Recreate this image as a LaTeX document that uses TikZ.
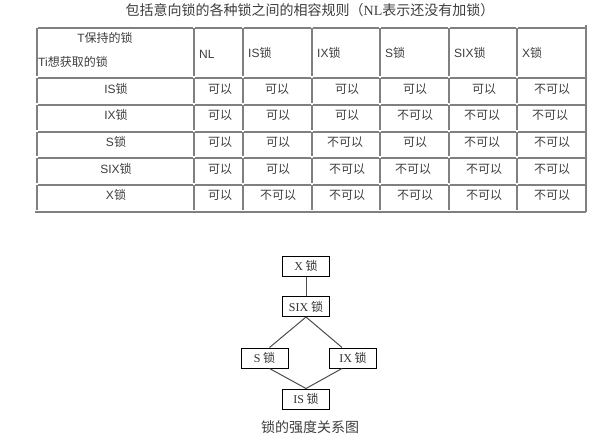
\documentclass[tikz,border=0pt]{standalone}
\usepackage{fontspec}
\setmainfont{Noto Sans CJK SC}
\newfontfamily\serifLatin{Liberation Serif}
\newfontfamily\sansLatin{Liberation Sans}
\usepackage{tikz}
\definecolor{gridColor}{RGB}{128,128,128}
\definecolor{textColor}{RGB}{62,62,62}
\tikzstyle{sheet} = [x = 1pt, y = -1pt]
\tikzstyle{gridLine} = [color=gridColor, line width=1.2pt]
\tikzstyle{cellText} = [font=\fontsize{12}{12}\selectfont, text=textColor, inner sep=0pt]
\tikzstyle{headText} = [cellText, anchor=west]
\tikzstyle{titleText} = [font=\fontsize{14}{14}\selectfont, text=textColor, inner sep=0pt]
\tikzstyle{lockBox} = [draw=black, line width=1pt, minimum width=47pt, minimum height=20pt, inner sep=0pt, font=\fontsize{12}{12}\selectfont, text=black!80]
\tikzstyle{lockLine} = [color=black!70, line width=1pt]
\newcommand{\latinSans}[1]{{\sansLatin #1}}
\newcommand{\lockName}[1]{{\serifLatin #1} 锁}
\newcommand{\cellEdges}[2]{
  \foreach \left/\right in {37/194,194/243,243/312,312/380,380/449,449/517,517/586} {
    \draw [gridLine] (\left + 1, #1) -- (\right - 1, #1);
    \draw [gridLine] (\left, #1) -- (\left, #2 - 2);
  }
}
\newcommand{\lockRow}[4]{
  \node [cellText] (label#1) at (116, #2) {#3};
  \foreach \column/\answer [count=\n] in {#4} {
    \node [cellText] (answer#1-\n) at (\column, #2) {\answer};
  }
}
\begin{document}
\begin{tikzpicture}[sheet]
  \useasboundingbox [fill=white] (0,0) rectangle (609,441);
  \node [titleText] (title) at (310, 10) {包括意向锁的各种锁之间的相容规则（{\serifLatin NL}表示还没有加锁）};

  \cellEdges{28}{78}
  \cellEdges{78}{105}
  \cellEdges{105}{132}
  \cellEdges{132}{158}
  \cellEdges{158}{185}
  \cellEdges{185}{212}
  \draw [gridLine] (586, 25) -- (586, 212);
  \draw [gridLine] (35, 212) -- (586, 212);

  \node [cellText] (holdLabel) at (105, 38) {\latinSans{T}保持的锁};
  \node [headText] (wantLabel) at (38, 62) {\latinSans{Ti}想获取的锁};
  \node [headText] (headNL) at (199, 54) {\latinSans{NL}};
  \node [headText] (headIS) at (248, 53) {\latinSans{IS}锁};
  \node [headText] (headIX) at (317, 53) {\latinSans{IX}锁};
  \node [headText] (headS) at (385, 53) {\latinSans{S}锁};
  \node [headText] (headSIX) at (454, 53) {\latinSans{SIX}锁};
  \node [headText] (headX) at (522, 53) {\latinSans{X}锁};

  \lockRow{1}{89}{\latinSans{IS}锁}{220/可以,277/可以,347/可以,415/可以,484/可以,552/不可以}
  \lockRow{2}{115}{\latinSans{IX}锁}{220/可以,278/可以,347/可以,415/不可以,482/不可以,550/不可以}
  \lockRow{3}{142}{\latinSans{S}锁}{220/可以,278/可以,345/不可以,415/可以,482/不可以,552/不可以}
  \lockRow{4}{169}{\latinSans{SIX}锁}{220/可以,278/可以,347/不可以,413/不可以,484/不可以,552/不可以}
  \lockRow{5}{195}{\latinSans{X}锁}{220/可以,278/不可以,347/不可以,415/不可以,484/不可以,552/不可以}

  \node [lockBox] (lockX) at (306, 266) {\lockName{X}};
  \node [lockBox] (lockSIX) at (306, 306.5) {\lockName{SIX}};
  \node [lockBox] (lockS) at (264.5, 358) {\lockName{S}};
  \node [lockBox] (lockIX) at (353, 358) {\lockName{IX}};
  \node [lockBox] (lockIS) at (306, 399) {\lockName{IS}};
  \draw [lockLine] (lockX) -- (lockSIX);
  \draw [lockLine] (lockSIX.south) -- ([xshift=5pt]lockS.north);
  \draw [lockLine] (lockSIX.south) -- ([xshift=-11pt]lockIX.north);
  \draw [lockLine] ([xshift=5pt]lockS.south) -- (lockIS.north);
  \draw [lockLine] ([xshift=-11pt]lockIX.south) -- (lockIS.north);
  \node [titleText] (caption) at (310, 427) {锁的强度关系图};
\end{tikzpicture}
\end{document}
